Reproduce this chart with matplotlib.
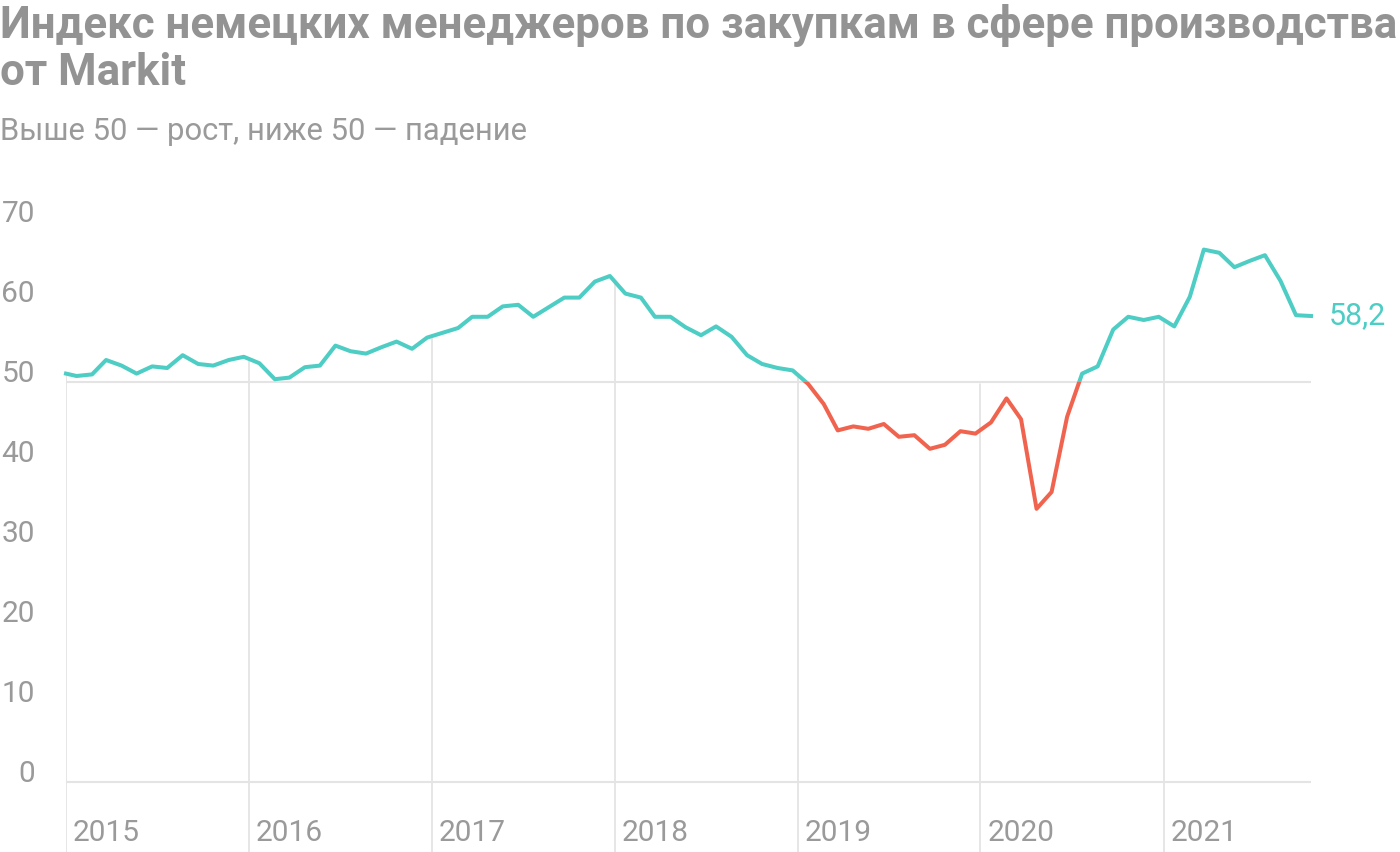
import numpy as np
import pandas as pd
import matplotlib
matplotlib.use('Agg')
import matplotlib.pyplot as plt
import matplotlib.dates as mdates
from matplotlib.patches import Rectangle

# Markit manufacturing PMI, Germany
pmi_start = [51.0]
pmi_2015 = [50.7, 50.9, 52.7, 52.0, 51.0, 51.9, 51.7, 53.3, 52.2, 52.0, 52.7, 53.1]
pmi_2016 = [52.3, 50.3, 50.5, 51.8, 52.0, 54.5, 53.8, 53.5, 54.3, 55.0, 54.1, 55.5]
pmi_2017 = [56.1, 56.7, 58.1, 58.1, 59.4, 59.6, 58.1, 59.3, 60.5, 60.5, 62.5, 63.2]
pmi_2018 = [61.0, 60.5, 58.1, 58.1, 56.8, 55.8, 56.9, 55.6, 53.3, 52.2, 51.7, 51.4]
pmi_2019 = [49.7, 47.2, 43.9, 44.4, 44.1, 44.7, 43.1, 43.3, 41.6, 42.1, 43.8, 43.5]
pmi_2020 = [44.9, 47.9, 45.3, 34.1, 36.2, 45.6, 51.0, 51.9, 56.5, 58.1, 57.7, 58.1]
pmi_2021 = [56.9, 60.6, 66.5, 66.1, 64.3, 65.1, 65.8, 62.6, 58.3, 58.2]

pmi = np.array(pmi_start + pmi_2015 + pmi_2016 + pmi_2017 + pmi_2018
               + pmi_2019 + pmi_2020 + pmi_2021)

# first point sits on the axis edge, the rest are flash releases (~22nd of month)
months = pd.date_range('2015-01-01', '2021-10-01', freq='MS')
dates = pd.DatetimeIndex([pd.Timestamp('2015-01-01')]).append(months + pd.Timedelta(days=21))
x = mdates.date2num(dates.to_pydatetime())

years = [2015, 2016, 2017, 2018, 2019, 2020, 2021]
y_ticks = [0, 10, 20, 30, 40, 50, 60, 70]
threshold = 50

title = 'Индекс немецких менеджеров по закупкам в сфере производства\nот Markit'
subtitle = 'Выше 50 — рост, ниже 50 — падение'

TEAL = '#4ecdc4'
RED = '#f0644f'
GRAY = '#9a9a9a'
GRID = '#e4e4e4'

plt.rcParams['font.family'] = ['Roboto', 'DejaVu Sans']

fig = plt.figure(figsize=(14, 8.52), dpi=100)
ax = fig.add_axes([66 / 1400, 0, (1311 - 66) / 1400, (852 - 200) / 852])
ax.set_xlim(x[0], x[-1])
ax.set_ylim(-8.8, 72.7)
ax.axis('off')

# year grid lines, hidden above the curve by a white fill
for yr in years:
    xy = mdates.date2num(pd.Timestamp(f'{yr}-01-01').to_pydatetime())
    ax.axvline(xy, color=GRID, lw=1.3, zorder=0)
    ax.annotate(str(yr), xy=(xy, 0), xycoords=ax.get_xaxis_transform(),
                xytext=(5, 8), textcoords='offset points', ha='left',
                va='baseline', fontsize=21.5, color=GRAY)
ax.fill_between(x, np.maximum(pmi, threshold), 80, facecolor='white',
                edgecolor='white', lw=2, zorder=1)

ax.axhline(threshold, color=GRID, lw=1.5, zorder=2)
ax.axhline(0, color=GRID, lw=1.5, zorder=2)

for v in y_ticks:
    ax.text(-31 / 1245, v, str(v), transform=ax.get_yaxis_transform(),
            ha='right', va='baseline', fontsize=21.5, color=GRAY)

# same line twice, clipped above / below 50
up, = ax.plot(x, pmi, color=TEAL, lw=2.9, zorder=3)
down, = ax.plot(x, pmi, color=RED, lw=2.9, zorder=3)
up.set_clip_path(Rectangle((-0.1, threshold), 1.2, 100, transform=ax.get_yaxis_transform()))
down.set_clip_path(Rectangle((-0.1, -100), 1.2, 100 + threshold, transform=ax.get_yaxis_transform()))

ax.annotate(f'{pmi[-1]:.1f}'.replace('.', ','), xy=(x[-1], pmi[-1]),
            xytext=(13, 0), textcoords='offset points', ha='left', va='center',
            fontsize=22, color=TEAL, annotation_clip=False)

fig.text(0, 1 - 4 / 852, title, ha='left', va='top', fontsize=31.6,
         fontweight='bold', color='#939393', linespacing=1.14)
fig.text(0, 1 - 140 / 852, subtitle, ha='left', va='baseline', fontsize=22.3, color=GRAY)

fig.savefig('out.png', dpi=100)
